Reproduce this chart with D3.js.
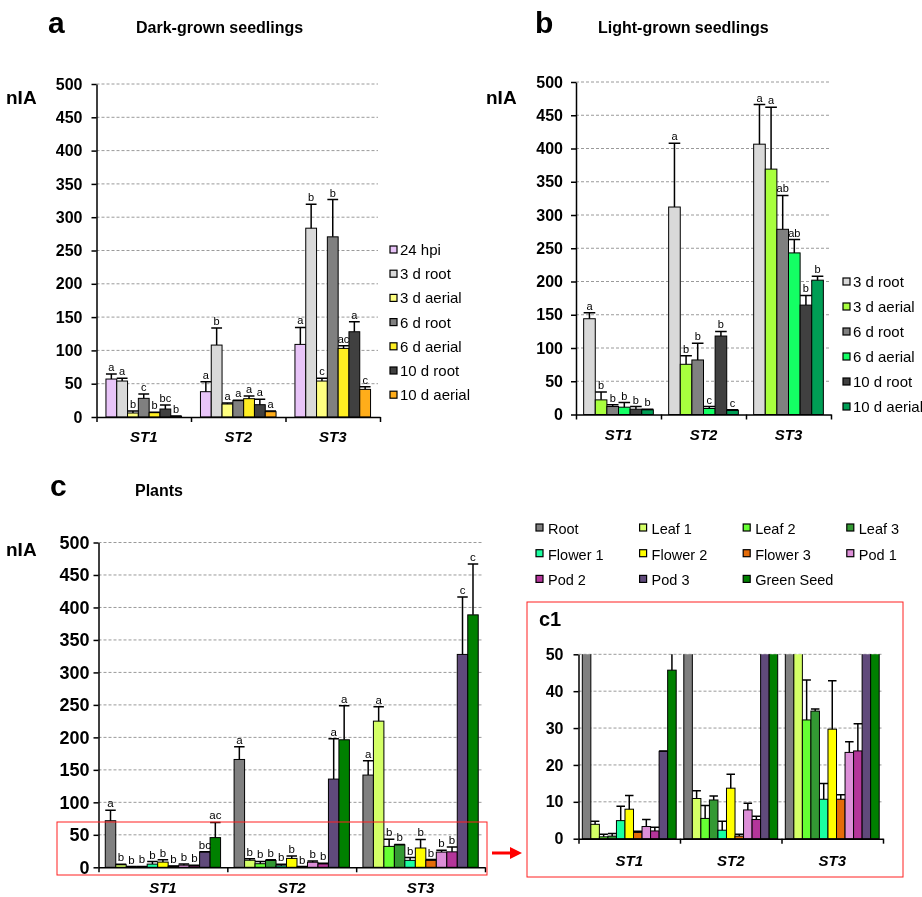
<!DOCTYPE html>
<html>
<head>
<meta charset="utf-8">
<script src="https://cdn.jsdelivr.net/npm/d3@7"></script>
<style>
  body { margin: 0; background: #fff; }
  svg { font-family: "Liberation Sans", Arial, sans-serif; will-change: transform; }
</style>
</head>
<body>
<div id="chart"></div>
<script>
// ---- data ----
const categories = ["ST1", "ST2", "ST3"];

// a : dark-grown seedlings
const seriesA = ["24 hpi", "3 d root", "3 d aerial", "6 d root", "6 d aerial", "10 d root", "10 d aerial"];
const colorsA = ["#e8c4f8", "#d9d9d9", "#ffff80", "#808080", "#ffee22", "#404040", "#ffad1a"];
const valuesA = [[57, 38, 109], [54, 108, 283.5], [6, 19.5, 54], [28, 24.5, 270.5], [6.5, 27.5, 103], [12, 18.5, 128], [1, 8, 41.5]];
const errorsA = [[7.5, 15, 25.5], [4, 25.5, 36], [3, 1.5, 4], [6.5, 0.5, 56], [0.5, 4, 4], [6, 8, 15], [0.5, 1, 4]];
const lettersA = [["a", "a", "a"], ["a", "b", "b"], ["b", "a", "c"], ["c", "a", "b"], ["b", "a", "ac"], ["bc", "a", "a"], ["b", "a", "c"]];

// b : light-grown seedlings
const seriesB = ["3 d root", "3 d aerial", "6 d root", "6 d aerial", "10 d root", "10 d aerial"];
const colorsB = ["#d9d9d9", "#a8ff3e", "#808080", "#14ff64", "#404040", "#009e55"];
const valuesB = [[144, 312, 406.5], [22, 75.5, 369], [12, 82, 278.5], [11, 9, 243], [8, 118, 164.5], [7, 6, 202]];
const errorsB = [[9, 96, 59.5], [12, 13, 93], [2.5, 25, 51], [7, 3, 20], [4, 7, 14.5], [1, 1, 6]];
const lettersB = [["a", "a", "a"], ["b", "b", "a"], ["b", "b", "ab"], ["b", "c", "ab"], ["b", "b", "b"], ["b", "c", "b"]];

// c / c1 : plants
const seriesC = ["Root", "Leaf 1", "Leaf 2", "Leaf 3", "Flower 1", "Flower 2", "Flower 3", "Pod 1", "Pod 2", "Pod 3", "Green Seed"];
const colorsC = ["#808080", "#d4ff66", "#66ff33", "#339933", "#1affa0", "#ffff00", "#e46c0a", "#dd8fd8", "#b4359a", "#604a7b", "#008000"];
const valuesC = [[71.7, 166, 142], [3.9, 10.9, 225], [0.5, 5.5, 32.2], [0.7, 10.5, 34.6], [4.9, 2.3, 10.7], [8.0, 13.7, 29.7],
                 [1.7, 0.7, 10.7], [3.3, 7.8, 23.4], [2.1, 5.2, 23.8], [23.7, 135.8, 327.7], [45.7, 196.3, 388.6]];
const errorsC = [[16.3, 19.5, 22], [0.8, 2.1, 22], [0.7, 3.5, 10.8], [0.7, 1.1, 0.6], [3.9, 2.4, 4.3], [3.7, 3.8, 13.1],
                 [0.3, 0.5, 1.2], [1.9, 1.8, 2.9], [1.0, 0.9, 7.4], [0.1, 62.2, 88.3], [23.3, 52.3, 78.4]];
const lettersC = [["a", "a", "a"], ["b", "b", "a"], ["b", "b", "b"], ["b", "b", "b"], ["b", "b", "b"], ["b", "b", "b"],
                  ["b", "b", "b"], ["b", "b", "b"], ["b", "b", "b"], ["bc", "a", "c"], ["ac", "a", "c"]];

const svg = d3.select("#chart").append("svg")
  .attr("width", 922)
  .attr("height", 897);

svg.append("defs").append("marker")
  .attr("id", "arrowhead")
  .attr("viewBox", "0 0 10 10")
  .attr("refX", 5).attr("refY", 5)
  .attr("markerWidth", 4).attr("markerHeight", 4)
  .attr("orient", "auto")
  .append("path")
  .attr("d", "M0,0 L10,5 L0,10 z")
  .attr("fill", "#ff0000");

let clipCount = 0;

function drawPanel(p) {
  const x0 = d3.scaleBand().domain(categories).range([p.left, p.right]);
  const inner = x0.bandwidth() * p.frac;
  const x1 = d3.scaleBand().domain(d3.range(p.series.length)).range([0, inner]);
  const y = d3.scaleLinear().domain([0, p.yMax]).range([p.bottom, p.top]);
  const tickVals = d3.range(0, p.yMax + 0.001, p.step);

  const g = svg.append("g");

  // dashed grid
  g.append("g").selectAll("line")
    .data(tickVals.slice(1))
    .join("line")
      .attr("x1", p.left).attr("x2", p.gridRight)
      .attr("y1", d => y(d)).attr("y2", d => y(d))
      .attr("stroke", "#9a9a9a")
      .attr("stroke-width", 1)
      .attr("stroke-dasharray", "3,2");

  // bars (clipped for the zoomed c1 panel)
  let barLayer = g.append("g");
  if (p.clip) {
    const id = "clip" + (clipCount++);
    svg.select("defs").append("clipPath").attr("id", id)
      .append("rect")
        .attr("x", p.left).attr("y", p.top)
        .attr("width", p.right - p.left).attr("height", p.bottom - p.top + 2);
    barLayer.attr("clip-path", `url(#${id})`);
  }

  const cells = [];
  p.series.forEach((s, i) => {
    categories.forEach((c, j) => {
      cells.push({ s: i, c: c, v: p.values[i][j], e: p.errors[i][j], l: p.letters ? p.letters[i][j] : "" });
    });
  });
  const bx = d => x0(d.c) + (x0.bandwidth() - inner) / 2 + x1(d.s);

  barLayer.selectAll("rect")
    .data(cells)
    .join("rect")
      .attr("x", bx)
      .attr("y", d => y(d.v))
      .attr("width", x1.bandwidth())
      .attr("height", d => y(0) - y(d.v))
      .attr("fill", d => p.colors[d.s])
      .attr("stroke", "#000")
      .attr("stroke-width", 1);

  // upper error bars
  barLayer.selectAll("path.err")
    .data(cells)
    .join("path")
      .attr("class", "err")
      .attr("d", d => {
        const cx = bx(d) + x1.bandwidth() / 2, hw = x1.bandwidth() / 2;
        return `M${cx},${y(d.v)}V${y(d.v + d.e)}M${cx - hw},${y(d.v + d.e)}H${cx + hw}`;
      })
      .attr("stroke", "#000")
      .attr("stroke-width", 1.5)
      .attr("fill", "none");

  // significance letters
  if (p.letters) {
    g.selectAll("text.sig")
      .data(cells)
      .join("text")
        .attr("class", "sig")
        .attr("x", d => bx(d) + x1.bandwidth() / 2)
        .attr("y", d => y(d.v + d.e) - 3)
        .attr("text-anchor", "middle")
        .style("font-size", p.letterSize + "px")
        .style("fill", "#000")
        .text(d => d.l);
  }

  // y axis
  const ya = g.append("g")
    .attr("transform", `translate(${p.left},0)`)
    .call(d3.axisLeft(y).tickValues(tickVals).tickSize(5).tickSizeOuter(0).tickPadding(p.tickPad));
  ya.select(".domain").attr("stroke-width", 1.5);
  ya.selectAll(".tick line").attr("stroke-width", 1.5);
  ya.selectAll("text")
    .style("font-size", p.tickSize + "px")
    .style("font-weight", "bold")
    .style("fill", "#000");

  // x axis with boundary ticks
  const xb = d3.scaleLinear().domain([0, categories.length]).range([p.left, p.right]);
  const xa = g.append("g")
    .attr("transform", `translate(0,${p.bottom})`)
    .call(d3.axisBottom(xb).tickValues(d3.range(categories.length + 1)).tickSize(5).tickSizeOuter(0).tickFormat(""));
  xa.select(".domain").attr("stroke-width", 1.5);
  xa.selectAll(".tick line").attr("stroke-width", 1.5);

  g.selectAll("text.cat")
    .data(categories)
    .join("text")
      .attr("class", "cat")
      .attr("x", d => x0(d) + x0.bandwidth() / 2)
      .attr("y", p.bottom + p.catOffset)
      .attr("text-anchor", "middle")
      .style("font-size", p.catSize + "px")
      .style("font-weight", "bold")
      .style("font-style", "italic")
      .text(d => d);
}

function drawLegend(names, colors, x, y0, dy, size) {
  const lg = svg.append("g");
  const item = lg.selectAll("g")
    .data(names)
    .join("g")
      .attr("transform", (d, i) => `translate(${x},${y0 + i * dy})`);
  item.append("rect")
    .attr("x", 0).attr("y", -4)
    .attr("width", 7).attr("height", 7)
    .attr("fill", (d, i) => colors[i])
    .attr("stroke", "#000").attr("stroke-width", 1.2);
  item.append("text")
    .attr("x", 10).attr("y", 5)
    .style("font-size", size + "px")
    .text(d => d);
}

function label(x, y, txt, size, family) {
  svg.append("text")
    .attr("x", x).attr("y", y)
    .style("font-size", size + "px")
    .style("font-weight", "bold")
    .style("font-family", family || null)
    .text(txt);
}

// ---- panel a ----
label(48, 33, "a", 30, "Arial, 'Liberation Sans', sans-serif");
label(136, 33, "Dark-grown seedlings", 16);
label(6, 104, "nIA", 19);
drawPanel({
  left: 96.5, right: 380, gridRight: 378, top: 84, bottom: 417, yMax: 500, step: 50, frac: 0.8,
  series: seriesA, colors: colorsA, values: valuesA, errors: errorsA, letters: lettersA,
  tickSize: 16, tickPad: 9, catSize: 15, catOffset: 25, letterSize: 11
});
drawLegend(seriesA, colorsA, 390, 250, 24.2, 15);

// ---- panel b ----
label(535, 33, "b", 30, "Arial, 'Liberation Sans', sans-serif");
label(598, 33, "Light-grown seedlings", 16);
label(486, 104, "nIA", 19);
drawPanel({
  left: 576, right: 831, gridRight: 831, top: 82, bottom: 414.5, yMax: 500, step: 50, frac: 0.82,
  series: seriesB, colors: colorsB, values: valuesB, errors: errorsB, letters: lettersB,
  tickSize: 16, tickPad: 8, catSize: 15, catOffset: 25, letterSize: 11
});
drawLegend(seriesB, colorsB, 843, 282, 25, 15);

// ---- panel c ----
label(50, 496, "c", 30, "Arial, 'Liberation Sans', sans-serif");
label(135, 496, "Plants", 16);
label(6, 556, "nIA", 19);
drawPanel({
  left: 98.5, right: 485, gridRight: 483, top: 542.5, bottom: 867.3, yMax: 500, step: 50, frac: 0.895,
  series: seriesC, colors: colorsC, values: valuesC, errors: errorsC, letters: lettersC,
  tickSize: 18, tickPad: 4, catSize: 15, catOffset: 26, letterSize: 11.5
});

// legend for c, 4 columns
const legC = svg.append("g");
const legItems = legC.selectAll("g")
  .data(seriesC)
  .join("g")
    .attr("transform", (d, i) => `translate(${536 + (i % 4) * 103.6},${529 + Math.floor(i / 4) * 25.7})`);
legItems.append("rect")
  .attr("x", 0).attr("y", -5)
  .attr("width", 7).attr("height", 7)
  .attr("fill", (d, i) => colorsC[i])
  .attr("stroke", "#000").attr("stroke-width", 1.2);
legItems.append("text")
  .attr("x", 12).attr("y", 5)
  .style("font-size", "14.5px")
  .text(d => d);

// red highlight box in c and the arrow
svg.append("rect")
  .attr("x", 57).attr("y", 822).attr("width", 430).attr("height", 53)
  .attr("fill", "none").attr("stroke", "#ff2020").attr("stroke-width", 1);
svg.append("line")
  .attr("x1", 492).attr("y1", 853).attr("x2", 516).attr("y2", 853)
  .attr("stroke", "#ff0000").attr("stroke-width", 3)
  .attr("marker-end", "url(#arrowhead)");

// ---- panel c1 ----
svg.append("rect")
  .attr("x", 527).attr("y", 602).attr("width", 376).attr("height", 275)
  .attr("fill", "none").attr("stroke", "#ff2020").attr("stroke-width", 1);
label(539, 626, "c1", 20);
drawPanel({
  left: 578.5, right: 883, gridRight: 883, top: 654.3, bottom: 838.7, yMax: 50, step: 10, frac: 0.925,
  series: seriesC, colors: colorsC, values: valuesC, errors: errorsC, letters: null, clip: true,
  tickSize: 16, tickPad: 10, catSize: 15, catOffset: 27, letterSize: 11
});
</script>
</body>
</html>
